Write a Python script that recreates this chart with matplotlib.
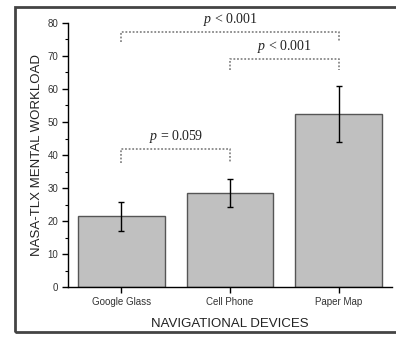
import matplotlib
matplotlib.use("Agg")
import matplotlib.pyplot as plt
from matplotlib.patches import Rectangle
from matplotlib.ticker import MultipleLocator

categories = ["Google Glass", "Cell Phone", "Paper Map"]
means = [21.5, 28.5, 52.4]
errors = [4.4, 4.3, 8.5]

# significance brackets: (left index, right index, line level, left drop, right drop, label)
brk_left = [0, 1, 0]
brk_right = [2, 2, 1]
brk_level = [77.3, 69.1, 41.8]
brk_drop_l = [74.2, 65.8, 37.6]
brk_drop_r = [74.6, 65.8, 37.6]
brk_labels = [r"$p$ < 0.001", r"$p$ < 0.001", r"$p$ = 0.059"]

plt.rcParams["mathtext.fontset"] = "custom"
plt.rcParams["mathtext.it"] = "Liberation Serif:italic"
plt.rcParams["mathtext.rm"] = "Liberation Serif"

fig = plt.figure(figsize=(3.96, 3.37), dpi=100)
ax = fig.add_axes([68/396, 1-287/337, (392-68)/396, (287-23)/337])

x = list(range(len(categories)))
ax.bar(x, means, width=0.8, color="#c0c0c0", edgecolor="#555555", linewidth=1.0, zorder=2)
ax.errorbar(x, means, yerr=errors, fmt="none", ecolor="black", elinewidth=1.0,
            capsize=2.5, capthick=1.0, zorder=3)

ax.set_xlim(-0.49, 2.49)
ax.set_ylim(0, 80)
ax.set_xticks(x)
ax.set_xticklabels(categories, fontfamily="Liberation Sans", fontsize=7, color="#333333")
ax.yaxis.set_major_locator(MultipleLocator(10))
ax.yaxis.set_minor_locator(MultipleLocator(5))
for lab in ax.get_yticklabels():
    lab.set_fontfamily("Liberation Sans")
    lab.set_fontsize(7)
    lab.set_color("#333333")
ax.tick_params(axis="both", which="major", direction="out", length=4.5, width=1, color="black", pad=2.5)
ax.tick_params(axis="y", which="minor", direction="out", length=2.5, width=0.8)
for s in ["top", "right"]:
    ax.spines[s].set_visible(False)
for s in ["left", "bottom"]:
    ax.spines[s].set_linewidth(1.0)
    ax.spines[s].set_color("black")

ax.set_xlabel("NAVIGATIONAL DEVICES", fontfamily="Liberation Sans", fontsize=9.5, labelpad=8, color="#222222")
ax.set_ylabel("NASA-TLX MENTAL WORKLOAD", fontfamily="Liberation Sans", fontsize=9.5, labelpad=3, color="#222222")

for l, r, lev, dl, dr, lab in zip(brk_left, brk_right, brk_level, brk_drop_l, brk_drop_r, brk_labels):
    ax.plot([l, l, r, r], [dl, lev, lev, dr], linestyle=(0, (1, 1)), color="#888888", linewidth=1.3, zorder=4)
    ax.text((l + r) / 2, lev + 1.3, lab, ha="center", va="bottom", fontsize=10,
            fontfamily="Liberation Serif", color="#222222")

frame = Rectangle((15/396, 5/337), 1.2, (332-7)/337, transform=fig.transFigure,
                  fill=False, edgecolor="#444444", linewidth=2.0, clip_on=False)
fig.patches.append(frame)

fig.savefig("out.png", dpi=100)
